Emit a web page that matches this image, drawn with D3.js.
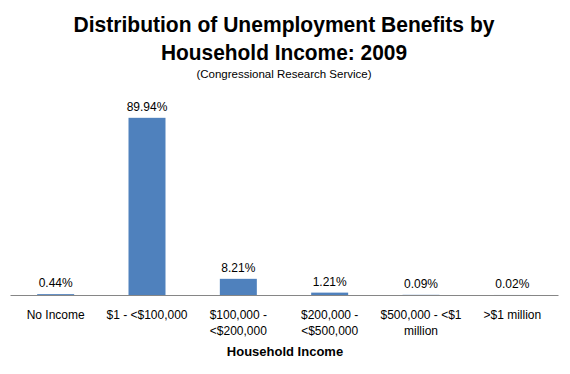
<!DOCTYPE html>
<html>
<head>
<meta charset="utf-8">
<script src="https://cdn.jsdelivr.net/npm/d3@7"></script>
<style>
  body { margin: 0; background: #fff; }
  text { font-family: "Liberation Sans", Arial, sans-serif; fill: #000; }
</style>
</head>
<body>
<div id="chart"></div>
<script>
var categories = ["No Income", "$1 - <$100,000", "$100,000 - <$200,000", "$200,000 - <$500,000", "$500,000 - <$1 million", ">$1 million"];
var shares = [0.44, 89.94, 8.21, 1.21, 0.09, 0.02];
var valueLabels = ["0.44%", "89.94%", "8.21%", "1.21%", "0.09%", "0.02%"];
var titleLines = ["Distribution of Unemployment Benefits by", "Household Income: 2009"];
var subtitle = "(Congressional Research Service)";
var xTitle = "Household Income";

var width = 570, height = 374;

var svg = d3.select("#chart").append("svg")
    .attr("width", width)
    .attr("height", height);

var x = d3.scaleBand()
    .domain(categories)
    .range([10, 558])
    .paddingInner(0.595)
    .paddingOuter(0.2975);

var y = d3.scaleLinear()
    .domain([0, 100])
    .range([295, 98]);

// titles
svg.append("text")
    .attr("x", 284).attr("y", 32)
    .attr("text-anchor", "middle")
    .attr("font-size", 21.5).attr("font-weight", "bold")
    .attr("textLength", 421).attr("lengthAdjust", "spacingAndGlyphs")
    .text(titleLines[0]);
svg.append("text")
    .attr("x", 284).attr("y", 60)
    .attr("text-anchor", "middle")
    .attr("font-size", 21.5).attr("font-weight", "bold")
    .attr("textLength", 246).attr("lengthAdjust", "spacingAndGlyphs")
    .text(titleLines[1]);
svg.append("text")
    .attr("x", 284).attr("y", 78)
    .attr("text-anchor", "middle")
    .attr("font-size", 11.5)
    .text(subtitle);

// bars
svg.selectAll("rect.bar")
    .data(shares)
    .enter().append("rect")
    .attr("class", "bar")
    .attr("x", function(d, i) { return x(categories[i]); })
    .attr("width", x.bandwidth())
    .attr("y", function(d) { return y(d); })
    .attr("height", function(d) { return y(0) - y(d); })
    .attr("fill", "#4f81bd");

svg.selectAll("text.val")
    .data(shares)
    .enter().append("text")
    .attr("class", "val")
    .attr("x", function(d, i) { return x(categories[i]) + x.bandwidth() / 2; })
    .attr("y", function(d) { return y(d) - 7; })
    .attr("text-anchor", "middle")
    .attr("font-size", 12)
    .text(function(d, i) { return valueLabels[i]; });

// x axis
var gx = svg.append("g")
    .attr("transform", "translate(0," + y(0) + ")")
    .call(d3.axisBottom(x).tickSize(0).tickPadding(15));

gx.select(".domain").attr("stroke", "#868686");
gx.selectAll(".tick text")
    .attr("font-size", 12)
    .attr("font-family", "Liberation Sans, Arial, sans-serif")
    .attr("fill", "#000")
    .call(wrap, 88);

svg.append("text")
    .attr("x", 285).attr("y", 356)
    .attr("text-anchor", "middle")
    .attr("font-size", 13).attr("font-weight", "bold")
    .text(xTitle);

function wrap(sel, w) {
    sel.each(function() {
        var t = d3.select(this),
            words = t.text().split(" "),
            yy = t.attr("y"),
            dy = t.attr("dy"),
            line = [],
            lineNo = 0,
            tspan = t.text(null).append("tspan").attr("x", 0).attr("y", yy).attr("dy", dy);
        words.forEach(function(word) {
            line.push(word);
            tspan.text(line.join(" "));
            if (tspan.node().getComputedTextLength() > w && line.length > 1) {
                line.pop();
                tspan.text(line.join(" "));
                line = [word];
                lineNo++;
                tspan = t.append("tspan").attr("x", 0).attr("y", yy)
                    .attr("dy", (lineNo * 16 / 12 + parseFloat(dy)) + "em")
                    .text(word);
            }
        });
    });
}
</script>
</body>
</html>
